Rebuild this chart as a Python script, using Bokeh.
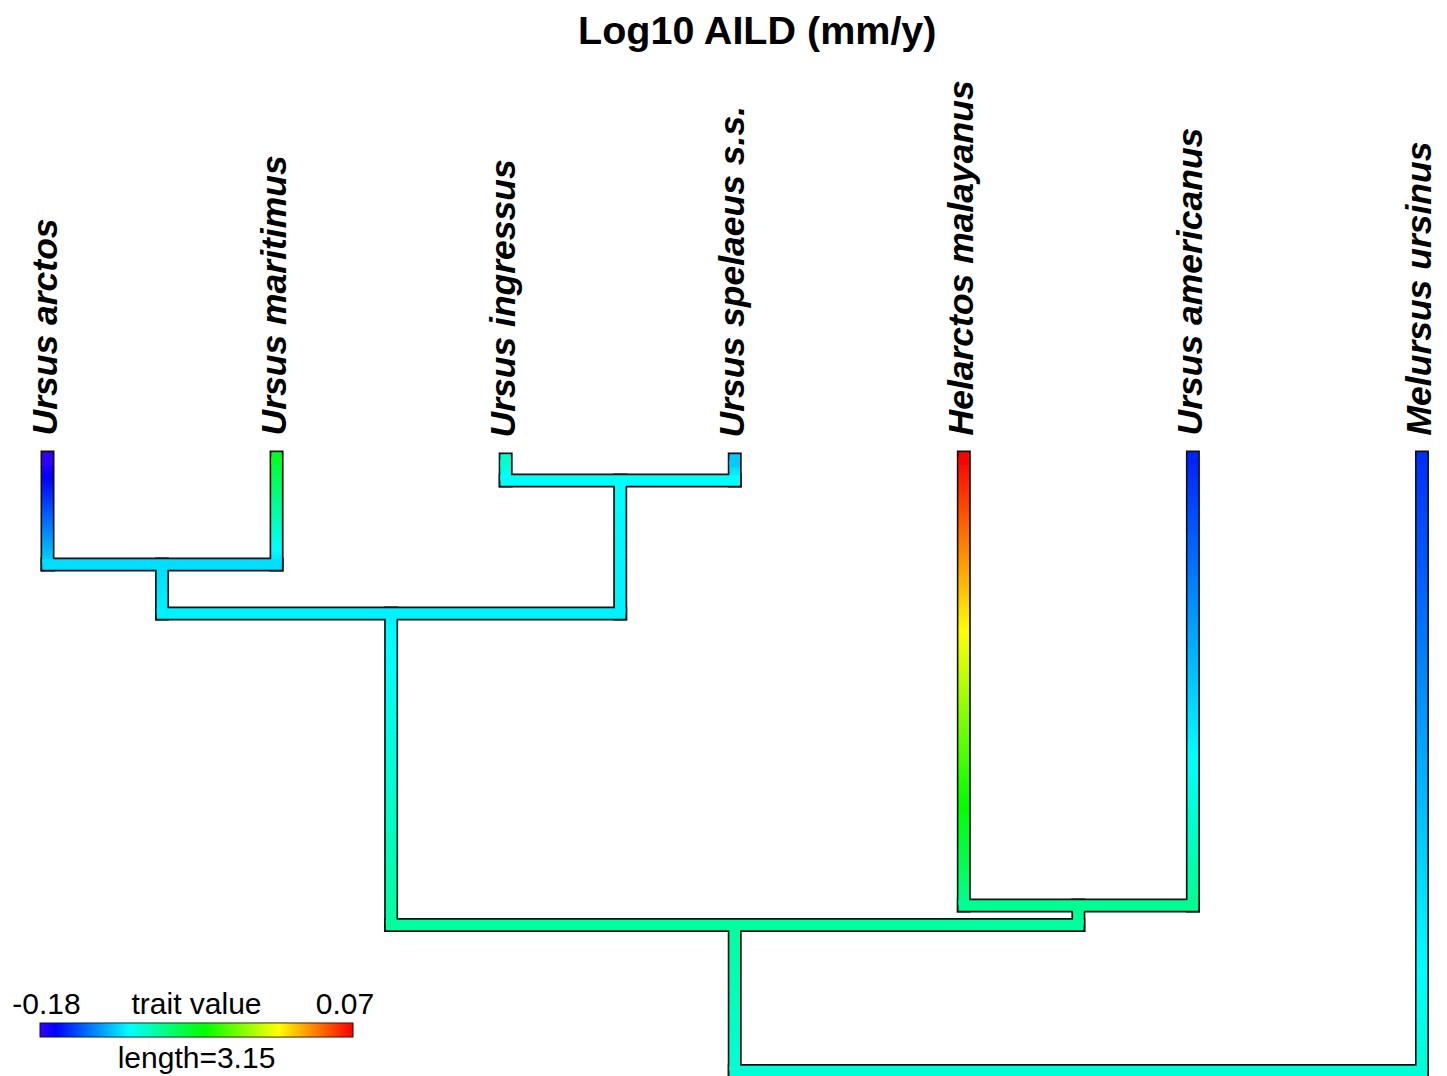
import colorsys
from bokeh.plotting import figure
from bokeh.models import Range1d, ColumnDataSource
from bokeh.core.properties import value
from bokeh.embed import file_html
from bokeh.resources import INLINE

# ---------------- data ----------------
tip_labels = ["Ursus arctos", "Ursus maritimus", "Ursus ingressus",
              "Ursus spelaeus s.s.", "Helarctos malayanus",
              "Ursus americanus", "Melursus ursinus"]
tip_heights = [6.194, 6.194, 6.174, 6.174, 6.194, 6.194, 6.194]   # time from root
tip_values = [-0.180, -0.058, -0.097, -0.121, 0.070, -0.160, -0.157]

node_names = ["root", "B", "C", "D", "E", "F"]
node_heights = [0.0, 1.474, 4.619, 1.671, 5.114, 5.962]
node_values = [-0.099, -0.086, -0.1115, -0.083, -0.1165, -0.1086]

edge_parent = ["root", "root", "B", "B", "C", "C", "E", "E", "F", "F", "D", "D"]
edge_child = ["B", "Melursus ursinus", "C", "D", "E", "F",
              "Ursus arctos", "Ursus maritimus", "Ursus ingressus",
              "Ursus spelaeus s.s.", "Helarctos malayanus", "Ursus americanus"]

legend_lims = [-0.18, 0.07]
legend_lim_labels = ["-0.18", "0.07"]
legend_title = "trait value"
legend_length = 3.15
title_text = "Log10 AILD (mm/y)"

# ---------------- layout constants ----------------
W, H = 1447, 1076
PX_Y = 99.05      # px per unit of branch length
PX_X = 229.08     # px per tip
TIP0_PAGE_X = 47.0
ROOT_PAGE_Y = 1070.5

def X(page_x):
    return 1 + (page_x - TIP0_PAGE_X) / PX_X

def Y(page_y):
    return (ROOT_PAGE_Y - page_y) / PX_Y

LO, HI = min(tip_values + node_values), max(tip_values + node_values)

def col(v):
    t = (v - LO) / (HI - LO)
    t = min(1.0, max(0.0, t))
    k = round(t * 1000) / 1000
    r, g, b = colorsys.hsv_to_rgb(0.7 * (1 - k), 1, 1)
    return "#%02x%02x%02x" % (round(r * 255), round(g * 255), round(b * 255))

# ---------------- tree geometry ----------------
pos_x, height, val = {}, {}, {}
for i, (n, h, v) in enumerate(zip(tip_labels, tip_heights, tip_values)):
    pos_x[n] = i + 1
    height[n] = h
    val[n] = v
for n, h, v in zip(node_names, node_heights, node_values):
    height[n] = h
    val[n] = v

children = {}
for pa, ch in zip(edge_parent, edge_child):
    children.setdefault(pa, []).append(ch)

def get_x(n):
    if n not in pos_x:
        xs = [get_x(c) for c in children[n]]
        pos_x[n] = sum(xs) / len(xs)
    return pos_x[n]

get_x("root")

p = figure(width=W, height=H, x_range=Range1d(X(0), X(W)),
           y_range=Range1d(Y(H), Y(0)), output_backend="svg",
           toolbar_location=None, x_axis_location=None, y_axis_location=None,
           min_border=0, outline_line_color=None, background_fill_color="white")
p.xgrid.visible = False
p.ygrid.visible = False

# black outlines
bx0, by0, bx1, by1 = [], [], [], []
for pa, ch in zip(edge_parent, edge_child):
    bx0.append(pos_x[ch]); bx1.append(pos_x[ch])
    by0.append(height[pa]); by1.append(height[ch])
for n in node_names:
    xs = [pos_x[c] for c in children[n]]
    bx0.append(min(xs)); bx1.append(max(xs))
    by0.append(height[n]); by1.append(height[n])
p.segment(bx0, by0, bx1, by1, line_color="#111111", line_width=14, line_cap="square")

# coloured vertical branches (gradient from parent state to child state)
OVL = 1.0 / PX_Y
sx0, sy0, sx1, sy1, sc = [], [], [], [], []
tx0, ty0, tx1, ty1, tc = [], [], [], [], []
for pa, ch in zip(edge_parent, edge_child):
    y0, y1 = height[pa], height[ch]
    v0, v1 = val[pa], val[ch]
    npc = max(2, int((y1 - y0) * PX_Y / 2))
    for k in range(npc):
        a, b = k / npc, (k + 1) / npc
        sx0.append(pos_x[ch]); sx1.append(pos_x[ch])
        sy0.append(y0 + (y1 - y0) * a)
        sy1.append(min(y1, y0 + (y1 - y0) * b + OVL))
        sc.append(col(v0 + (v1 - v0) * (a + b) / 2))
    if ch in tip_labels:
        tx0.append(pos_x[ch]); tx1.append(pos_x[ch])
        ty0.append(y1 - 0.02); ty1.append(y1)
        tc.append(col(v1))
p.segment(sx0, sy0, sx1, sy1, line_color=sc, line_width=10.5, line_cap="butt")
p.segment(tx0, ty0, tx1, ty1, line_color=tc, line_width=10.5, line_cap="square")

# coloured horizontal connectors
hx0, hx1, hy, hc = [], [], [], []
for n in node_names:
    xs = [pos_x[c] for c in children[n]]
    hx0.append(min(xs)); hx1.append(max(xs)); hy.append(height[n]); hc.append(col(val[n]))
p.segment(hx0, hy, hx1, hy, line_color=hc, line_width=10.5, line_cap="square")

# tip labels
src = ColumnDataSource(dict(x=[pos_x[n] for n in tip_labels],
                            y=[height[n] for n in tip_labels], t=tip_labels))
p.text("x", "y", text="t", source=src, angle=1.5707963, text_align="left",
       text_baseline="middle", x_offset=-3, y_offset=-22,
       text_font=value("Liberation Sans"),
       text_font_style="bold italic", text_font_size="35.5px", text_color="black")

# title
p.text([X(757.5)], [Y(29)], text=[title_text], text_align="center",
       text_baseline="alphabetic", text_font=value("Liberation Sans"),
       text_font_style="bold", text_font_size="39.5px", text_color="black")

# colour bar legend
bar_left = 40.0
bar_px = legend_length * PX_Y
p.quad(left=[X(bar_left - 1)], right=[X(bar_left + bar_px + 1)],
       bottom=[Y(1037)], top=[Y(1022)], fill_color="#111111", line_color=None)
nq = int(bar_px / 2)
ql, qr, qc = [], [], []
for k in range(nq):
    ql.append(X(bar_left + bar_px * k / nq))
    qr.append(min(X(bar_left + bar_px), X(bar_left + bar_px * (k + 1) / nq + 1)))
    qc.append(col(legend_lims[0] + (legend_lims[1] - legend_lims[0]) * (k + 0.5) / nq))
p.quad(left=ql, right=qr, bottom=[Y(1036)] * nq, top=[Y(1023)] * nq,
       fill_color=qc, line_color=None)

leg_font = dict(text_font=value("Liberation Sans"), text_font_size="30px",
                text_color="black", text_baseline="alphabetic", text_align="center")
p.text([X(46), X(344.5)], [Y(1003), Y(1003)], text=legend_lim_labels, **leg_font)
p.text([X(bar_left + bar_px / 2)], [Y(1003)], text=[legend_title], **leg_font)
p.text([X(bar_left + bar_px / 2)], [Y(1057)], text=["length=" + str(legend_length)], **leg_font)

open("out.html", "w").write(file_html(p, INLINE))
